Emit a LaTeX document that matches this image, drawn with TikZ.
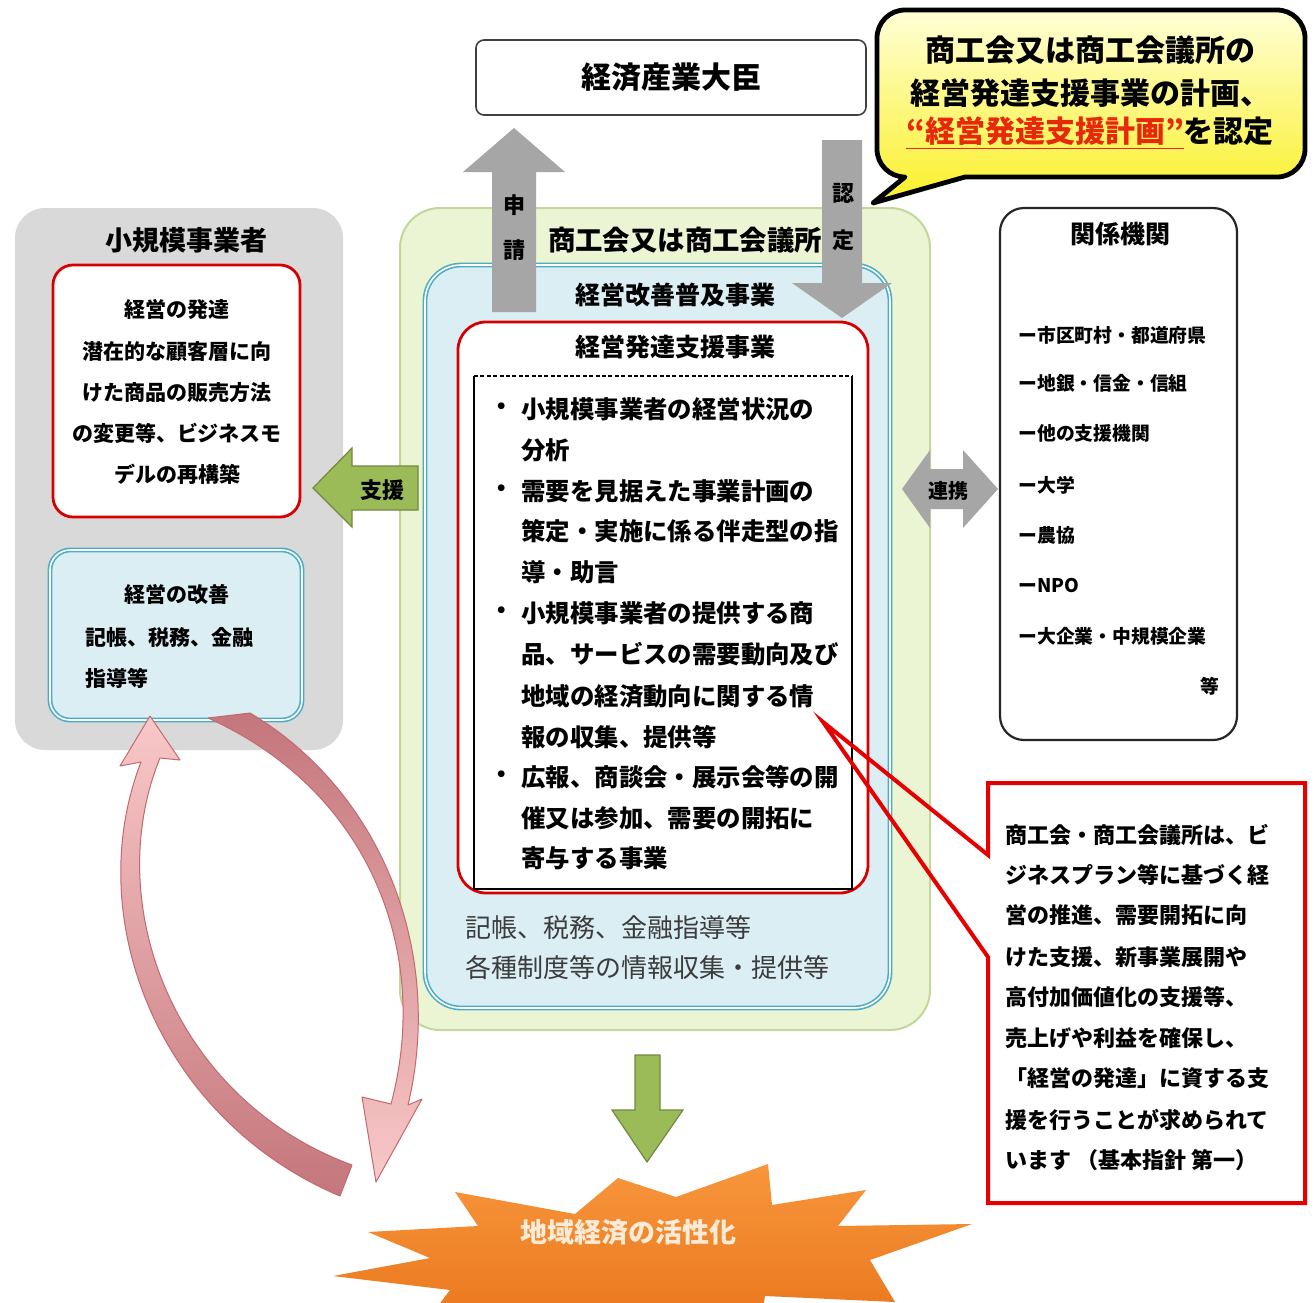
\documentclass[tikz,border=0pt]{standalone}
\usepackage{fontspec}
\setmainfont{Noto Sans CJK JP}
\newcommand\myfs[1]{\fontsize{#1pt}{#1pt}\selectfont}
\definecolor{grayfill}{RGB}{217,217,217}
\definecolor{greenfill}{RGB}{235,245,212}
\definecolor{greenline}{RGB}{195,214,155}
\definecolor{bluefill}{RGB}{219,238,244}
\definecolor{blueline}{RGB}{75,172,198}
\definecolor{redline}{RGB}{215,0,0}
\definecolor{notered}{RGB}{230,0,0}
\definecolor{arrowgray}{RGB}{166,166,166}
\definecolor{arrowgreen}{RGB}{155,187,89}
\definecolor{arrowgreendark}{RGB}{113,137,63}
\definecolor{orangetop}{RGB}{247,150,60}
\definecolor{orangebot}{RGB}{232,115,25}
\definecolor{pinklight}{RGB}{249,200,200}
\definecolor{pinkdark}{RGB}{196,118,124}
\definecolor{pinkline}{RGB}{195,105,110}
\definecolor{yellowtop}{RGB}{255,255,215}
\definecolor{yellowbot}{RGB}{250,240,40}
\definecolor{calloutred}{RGB}{232,40,10}
\definecolor{softtext}{RGB}{60,60,60}
\definecolor{burstText}{RGB}{253,235,215}
\tikzset{
  txt/.style={inner sep=0pt},
  bluebox/.style={draw=blueline, double=white, double distance=0.8pt, line width=0.8pt, fill=bluefill},
  redbox/.style={draw=redline, line width=1.4pt, fill=white},
  grayarrow/.style={fill=arrowgray},
  greenarrow/.style={fill=arrowgreen, draw=arrowgreendark, line width=0.6pt},
}
\begin{document}
\begin{tikzpicture}[x=0.5pt,y=-0.5pt]
\fill[white] (0,0) rectangle (1314,1303);
\useasboundingbox (0,0) rectangle (1314,1303);

% ---------- METI box ----------
\node[draw=black!75, line width=0.8pt, rounded corners=4pt, fill=white,
      minimum width=195pt, minimum height=37.5pt, inner sep=0pt,
      font=\myfs{15}\bfseries] (meti) at (671,77.5) {経済産業大臣};

% ---------- callout ----------
\shadedraw[top color=yellowtop, bottom color=yellowbot, draw=black, line width=2.4pt, line join=round]
  (965,177) -- (1277,177) arc[start angle=90, end angle=0, radius=28]
  -- (1305,38) arc[start angle=0, end angle=-90, radius=28]
  -- (905,10) arc[start angle=-90, end angle=-180, radius=28]
  -- (877,149) arc[start angle=180, end angle=90, radius=28]
  -- (873,203) -- cycle;
\node[txt, font=\myfs{15}\bfseries] (cl1) at (1090,50) {商工会又は商工会議所の};
\node[txt, font=\myfs{15}\bfseries] (cl2) at (1090,93) {経営発達支援事業の計画、};
\node[txt, font=\myfs{15}\bfseries] (cl3) at (1090,133) {{\color{calloutred}\underline{“経営発達支援計画”}}を認定};

% ---------- left gray box ----------
\node[fill=grayfill, rounded corners=15pt, minimum width=164pt, minimum height=271pt] (smallbiz) at (179,479) {};
\node[txt, font=\myfs{13.5}\bfseries] (smallbiztitle) at (186,240) {小規模事業者};
\node[redbox, rounded corners=10pt, minimum width=123.5pt, minimum height=126pt] (devbox) at (176.5,391) {};
\foreach \yy/\tt [count=\i] in {310/{経営の発達},352/{潜在的な顧客層に向},393/{けた商品の販売方法},433/{の変更等、ビジネスモ},474/{デルの再構築}}
  \node[txt, font=\myfs{10.5}\bfseries] (dev\i) at (177,\yy) {\tt};
\node[bluebox, rounded corners=10pt, minimum width=126pt, minimum height=85pt] (impbox) at (176,635) {};
\node[txt, font=\myfs{10.5}\bfseries] (imp1) at (177,595) {経営の改善};
\node[txt, anchor=west, font=\myfs{10.5}\bfseries] (imp2) at (85,637) {記帳、税務、金融};
\node[txt, anchor=west, font=\myfs{10.5}\bfseries] (imp3) at (85,678) {指導等};

% ---------- center ----------
\node[fill=greenfill, draw=greenline, line width=1pt, rounded corners=20pt, minimum width=265pt, minimum height=411pt] (shokokai) at (665,619) {};
\node[txt, font=\myfs{13.7}\bfseries] (shokokaititle) at (685,240) {商工会又は商工会議所};
\node[bluebox, rounded corners=18pt, minimum width=232.5pt, minimum height=371.5pt] (fukyu) at (657.5,636.5) {};
\node[txt, font=\myfs{12.5}\bfseries] (fukyutitle) at (675,295) {経営改善普及事業};

% apply / approve arrows
\fill[grayarrow] (492,312) -- (492,172) -- (463,172) -- (514,128) -- (565,172) -- (536,172) -- (536,312) -- cycle;
\node[txt, font=\myfs{11}\bfseries] (shin) at (514,205) {申};
\node[txt, font=\myfs{11}\bfseries] (sei) at (514,250) {請};
\fill[grayarrow] (822,140) -- (862,140) -- (862,283) -- (892,283) -- (842,318) -- (792,283) -- (822,283) -- cycle;
\node[txt, font=\myfs{11}\bfseries] (nin) at (843,193) {認};
\node[txt, font=\myfs{11}\bfseries] (tei) at (843,240) {定};

\node[redbox, rounded corners=14pt, minimum width=205pt, minimum height=285.5pt] (hattatsu) at (663,607.5) {};
\node[txt, font=\myfs{12.5}\bfseries] (hattatsutitle) at (675,347) {経営発達支援事業};
\draw[black, line width=0.7pt, dash pattern=on 2pt off 1.2pt] (474,376) -- (852,376);
\draw[black, line width=1pt] (474,376) -- (474,889) -- (852,889) -- (852,376);
\foreach \yy in {409,491,613,777}
  \node[txt, font=\myfs{12.2}\bfseries] at (502,\yy) {・};
\foreach \yy/\tt [count=\i] in {409/{小規模事業者の経営状況の},450/{分析},491/{需要を見据えた事業計画の},531/{策定・実施に係る伴走型の指},572/{導・助言},613/{小規模事業者の提供する商},654/{品、サービスの需要動向及び},696/{地域の経済動向に関する情},737/{報の収集、提供等},777/{広報、商談会・展示会等の開},818/{催又は参加、需要の開拓に},858/{寄与する事業}}
  \node[txt, anchor=west, font=\myfs{12.2}\bfseries] (item\i) at (521,\yy) {\tt};
\node[txt, anchor=west, font=\myfs{13}, text=softtext] (fk1) at (465,928) {記帳、税務、金融指導等};
\node[txt, anchor=west, font=\myfs{13}, text=softtext] (fk2) at (465,968) {各種制度等の情報収集・提供等};

% support arrow
\filldraw[greenarrow] (313,488) -- (352,448) -- (352,466) -- (418,466) -- (418,510) -- (352,510) -- (352,527) -- cycle;
\node[txt, font=\myfs{11}\bfseries] (shien) at (382,490) {支援};

% cooperation arrow
\fill[grayarrow] (902,489) -- (930,450) -- (930,469) -- (963,469) -- (963,450) -- (998,489) -- (963,528) -- (963,509) -- (930,509) -- (930,528) -- cycle;
\node[txt, font=\myfs{10}\bfseries] (renkei) at (948,491) {連携};

% ---------- related organisations ----------
\node[draw=black!85, line width=1.1pt, fill=white, rounded corners=12pt, minimum width=118.5pt, minimum height=266pt] (kankei) at (1118.5,474) {};
\node[txt, font=\myfs{12.5}\bfseries] (kankeititle) at (1120,234) {関係機関};
\foreach \yy/\tt [count=\i] in {335/{ー市区町村・都道府県},383/{ー地銀・信金・信組},433/{ー他の支援機関},485/{ー大学},535/{ー農協},585/{ーNPO},636/{ー大企業・中規模企業}}
  \node[txt, anchor=west, font=\myfs{9.4}\bfseries] (org\i) at (1018,\yy) {\tt};
\node[txt, font=\myfs{9.4}\bfseries] (orgetc) at (1210,686) {等};

% ---------- note box with tail ----------
\fill[white] (988,783) rectangle (1305,1203);
\coordinate (notetip) at (823,722);
\draw[notered, line width=2pt, line join=miter]
  (988,957) -- (988,1203) -- (1305,1203) -- (1305,783) -- (988,783) -- (988,855) -- (notetip) -- cycle;
\foreach \yy/\tt [count=\i] in {835/{商工会・商工会議所は、ビ},875/{ジネスプラン等に基づく経},915/{営の推進、需要開拓に向},957/{けた支援、新事業展開や},997/{高付加価値化の支援等、},1038/{売上げや利益を確保し、},1078/{「経営の発達」に資する支},1120/{援を行うことが求められて},1160/{います （基本指針 第一）}}
  \node[txt, anchor=west, font=\myfs{11}\bfseries] (note\i) at (1005,\yy) {\tt};

% ---------- down arrow ----------
\filldraw[greenarrow] (635,1055) -- (660,1055) -- (660,1110) -- (683,1110) -- (647,1162) -- (612,1110) -- (635,1110) -- cycle;

% ---------- starburst ----------
\begin{scope}
\clip (0,0) rectangle (1314,1303);
\shade[top color=orangetop, bottom color=orangebot]
  (368,1232) -- (478,1226) -- (455,1192) -- (575,1214) -- (618,1178) -- (676,1197) -- (768,1164) -- (772,1205) -- (866,1190) -- (838,1226) -- (972,1224) -- (870,1260) -- (895,1302) -- (765,1296) -- (758,1340) -- (650,1318) -- (560,1345) -- (520,1310) -- (420,1330) -- (450,1290) -- (333,1276) -- (430,1258) -- cycle;
\end{scope}
\node[txt, font=\myfs{13.5}\bfseries, text=burstText] (burst) at (628,1232) {地域経済の活性化};

% ---------- pink cycle arrows ----------
\shadedraw[top color=pinkdark, bottom color=pinklight, draw=pinkline, line width=0.5pt, line join=round]
  (208,718) -- (250,713) .. controls (380,790) and (445,950) .. (408,1105) -- (422,1099) -- (376,1182) -- (362,1097) -- (391,1104) .. controls (432,950) and (368,790) .. (208,718) -- cycle;
\shadedraw[top color=pinklight, bottom color=pinkdark, draw=pinkline, line width=0.5pt, line join=round]
  (150,716) -- (180,760) -- (160,758) .. controls (100,905) and (175,1100) .. (352,1165) -- (340,1196) .. controls (160,1120) and (80,920) .. (141,762) -- (120,766) -- cycle;
\end{tikzpicture}
\end{document}
